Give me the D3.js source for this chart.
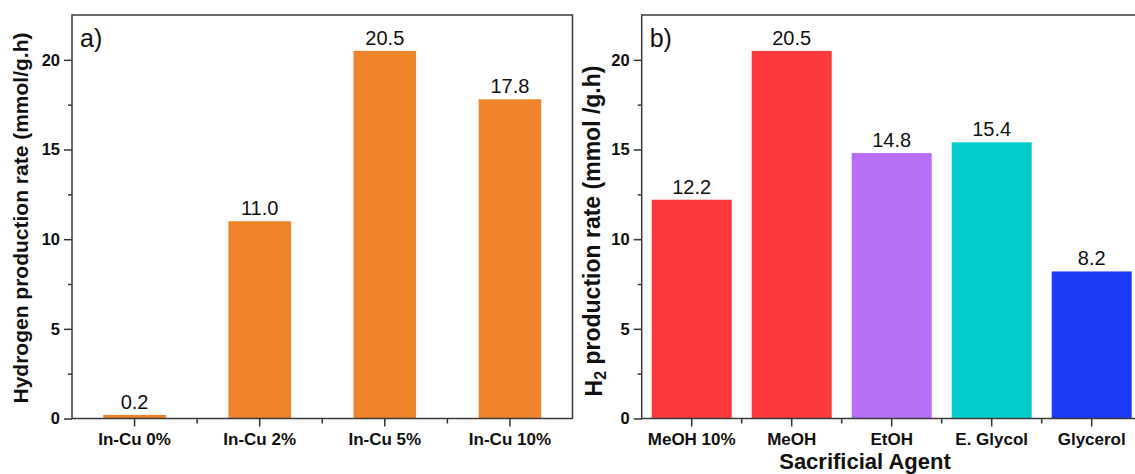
<!DOCTYPE html>
<html>
<head>
<meta charset="utf-8">
<script src="https://cdn.jsdelivr.net/npm/d3@7"></script>
<style>
  body { margin: 0; background: #fff; }
  svg text { font-family: "Liberation Sans", Arial, sans-serif; fill: #111; }
</style>
</head>
<body>
<script>
// data - panel a (In-Cu loading)
let catsA = ["In-Cu 0%", "In-Cu 2%", "In-Cu 5%", "In-Cu 10%"];
let valsA = [0.2, 11.0, 20.5, 17.8];
let colorsA = ["#f0842a", "#f0842a", "#f0842a", "#f0842a"];

// data - panel b (sacrificial agent)
let catsB = ["MeOH 10%", "MeOH", "EtOH", "E. Glycol", "Glycerol"];
let valsB = [12.2, 20.5, 14.8, 15.4, 8.2];
let colorsB = ["#fc393b", "#fc393b", "#b86ff7", "#02cccc", "#1b3bf3"];

// shared y ticks
let yMajor = [0, 5, 10, 15, 20];
let yMinor = [2.5, 7.5, 12.5, 17.5];

let width = 1135, height = 474;
let plotTop = 15, plotBottom = 418.5;

let svg = d3.select("body").append("svg")
  .attr("width", width)
  .attr("height", height);

let y = d3.scaleLinear().domain([0, 22.5]).range([plotBottom, plotTop]);

function drawPanel(opt) {
  let g = svg.append("g");

  let x = d3.scaleBand()
    .domain(opt.cats)
    .range([opt.left, opt.right])
    .paddingInner(opt.pad)
    .paddingOuter(opt.pad / 2);
  let step = x.step();
  let bw = x.bandwidth();

  // bars
  g.selectAll("rect.bar")
    .data(opt.vals)
    .enter().append("rect")
    .attr("class", "bar")
    .attr("x", (d, i) => x(opt.cats[i]))
    .attr("y", d => y(d))
    .attr("width", bw)
    .attr("height", d => y(0) - y(d))
    .attr("fill", (d, i) => opt.colors[i]);

  // value labels
  g.selectAll("text.val")
    .data(opt.vals)
    .enter().append("text")
    .attr("class", "val")
    .attr("x", (d, i) => x(opt.cats[i]) + bw / 2)
    .attr("y", d => y(d) - 6)
    .attr("text-anchor", "middle")
    .style("font-size", "20px")
    .text(d => d.toFixed(1));

  // y axis, major + minor
  let yAx = g.append("g")
    .attr("transform", "translate(" + opt.left + ",0)")
    .call(d3.axisLeft(y).tickValues(yMajor).tickSize(8).tickSizeOuter(0).tickPadding(4));
  g.append("g")
    .attr("transform", "translate(" + opt.left + ",0)")
    .call(d3.axisLeft(y).tickValues(yMinor).tickSize(4).tickSizeOuter(0).tickFormat(""));

  // x axis, major at categories + minor between
  let xAx = g.append("g")
    .attr("transform", "translate(0," + plotBottom + ")")
    .call(d3.axisBottom(x).tickSize(8).tickSizeOuter(0).tickPadding(6.5));
  let minorX = opt.cats.slice(1).map(c => x(c) + bw / 2 - step / 2);
  g.selectAll("line.minx")
    .data(minorX)
    .enter().append("line")
    .attr("class", "minx")
    .attr("x1", d => d).attr("x2", d => d)
    .attr("y1", plotBottom).attr("y2", plotBottom + 5)
    .attr("stroke", "#333").attr("stroke-width", 1.5);

  g.selectAll(".domain").remove();
  g.selectAll(".tick line").attr("stroke", "#333").attr("stroke-width", 1.5);
  yAx.selectAll("text").style("font-size", "16.5px").style("font-weight", "bold").attr("fill", "#111");
  xAx.selectAll("text").style("font-size", "17px").style("font-weight", "bold").attr("fill", "#111");

  // frame
  g.append("rect")
    .attr("x", opt.left).attr("y", plotTop)
    .attr("width", opt.right - opt.left).attr("height", plotBottom - plotTop)
    .attr("fill", "none")
    .attr("stroke", "#3a3a3a")
    .attr("stroke-width", 1.5);

  // panel letter
  g.append("text")
    .attr("x", opt.left + 8)
    .attr("y", 46.5)
    .style("font-size", "25px")
    .text(opt.letter);

  // y title
  let t = g.append("text")
    .attr("transform", "translate(" + opt.titleX + "," + opt.titleY + ") rotate(-90)")
    .attr("text-anchor", "middle")
    .style("font-size", opt.titleSize + "px")
    .style("font-weight", "bold");
  opt.title(t);
}

drawPanel({
  cats: catsA, vals: valsA, colors: colorsA,
  left: 72, right: 572.5, pad: 0.5, letter: "a)",
  titleX: 28, titleY: 218, titleSize: 21,
  title: t => t.text("Hydrogen production rate (mmol/g.h)")
});

drawPanel({
  cats: catsB, vals: valsB, colors: colorsB,
  left: 641.7, right: 1141.7, pad: 0.2, letter: "b)",
  titleX: 602, titleY: 231, titleSize: 23,
  title: t => {
    t.append("tspan").text("H");
    t.append("tspan").attr("dy", "0.28em").style("font-size", "16px").text("2");
    t.append("tspan").attr("dy", "-0.28em").text(" production rate (mmol /g.h)");
  }
});

// x title for panel b, sits right at the bottom edge
svg.append("text")
  .attr("x", 865)
  .attr("y", 469)
  .attr("text-anchor", "middle")
  .style("font-size", "22px")
  .style("font-weight", "bold")
  .text("Sacrificial Agent");
</script>
</body>
</html>
